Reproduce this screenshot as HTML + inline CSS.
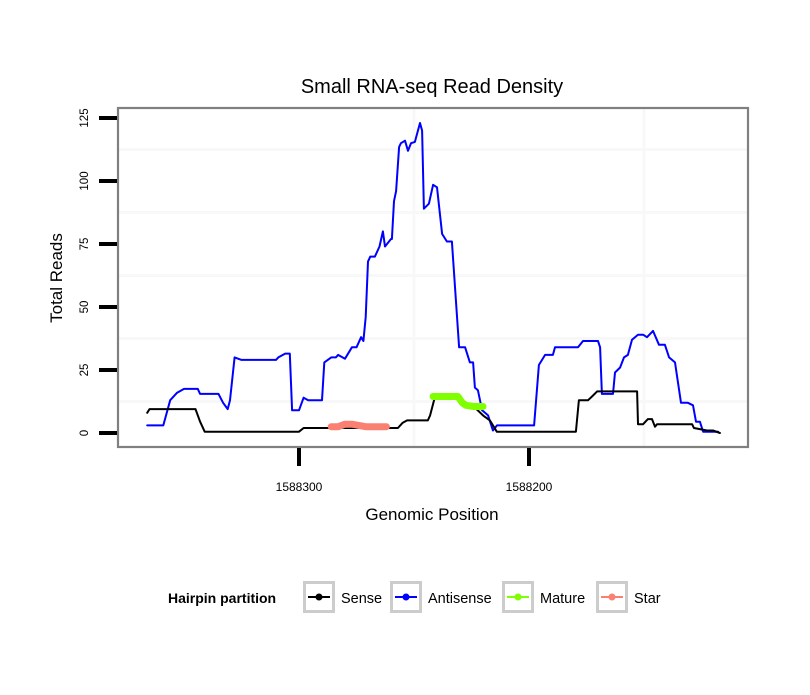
<!DOCTYPE html>
<html><head><meta charset="utf-8"><style>
body{margin:0;background:#fff}
svg text{font-family:"Liberation Sans",sans-serif}
</style></head><body>
<svg id="chart" width="810" height="690" viewBox="0 0 810 690" xmlns="http://www.w3.org/2000/svg">
<rect width="810" height="690" fill="#fff"/>
<text x="432" y="93" font-size="20" text-anchor="middle">Small RNA-seq Read Density</text>
<g id="grid"></g>
<g id="series"></g>
<rect x="118" y="108" width="630" height="339" fill="none" stroke="#808080" stroke-width="2.2"/>
<g id="axes"></g>
<text x="432" y="520" font-size="17" text-anchor="middle">Genomic Position</text>
<text transform="translate(62,278) rotate(-90)" font-size="17" text-anchor="middle">Total Reads</text>
<g>
<text x="168" y="603" font-size="14" font-weight="bold">Hairpin partition</text>
<g id="legend"></g>
</g>
</svg>
<script>
const senseX=[1588366,1588365,1588345,1588343,1588341,1588300,1588298,1588257,1588255,1588253,1588244,1588243,1588241,1588231,1588229,1588227.4,1588224,1588220,1588217,1588214,1588179.6,1588178.3,1588174.3,1588172.6,1588170.4,1588153,1588152.6,1588150.4,1588148.3,1588146.5,1588145.2,1588144.3,1588129.1,1588128.3,1588122.6,1588120,1588117];
const senseY=[8,9.5,9.5,4.5,0.5,0.5,2,2,4,5,5,7,14,14,12,11,10.5,7,5,0.5,0.5,13,13,14.5,16.5,16.5,3.5,3.5,5.5,5.5,2.5,3.5,3.5,2,1,1,0];
const antiX=[1588366,1588359,1588356,1588353,1588350,1588344,1588343,1588335,1588333,1588331,1588330,1588328,1588325,1588310,1588309,1588306,1588304,1588303,1588300,1588298,1588296,1588290,1588289,1588286,1588284,1588283,1588280,1588277,1588275,1588273,1588272,1588271,1588270,1588269,1588267,1588265,1588263.5,1588262.6,1588260,1588259.6,1588258.7,1588257.8,1588256.5,1588255.7,1588253.9,1588252.6,1588251.3,1588249.6,1588247.4,1588246.5,1588245.7,1588243.5,1588241.7,1588240,1588237.8,1588235.7,1588233.5,1588230.4,1588227.8,1588225.7,1588224.3,1588223.5,1588222.2,1588220.4,1588217.8,1588215.7,1588213.9,1588197.8,1588195.7,1588193,1588189.6,1588188.7,1588178.7,1588176.5,1588170,1588169.1,1588168.3,1588163.5,1588162.6,1588160.4,1588158.7,1588157,1588155.2,1588152.6,1588150.4,1588148.7,1588146.1,1588143.5,1588140.9,1588139.1,1588136.5,1588133.9,1588130.9,1588128.7,1588127.4,1588125.7,1588124.3,1588117.8];
const antiY=[3,3,13,16,17.5,17.5,15.5,15.5,12,9.5,13,30,29,29,30,31.5,31.5,9,9,14,13,13,28,30,30,31,29.5,34,34,38,36.5,46,68,70,70,74,80,74,77,77,92,96,113.5,115,116,112,115,115.5,123,120,89,91,98.5,97.5,79,76,76,34,34,28,28,18,17,9,7,1,3,3,27,31,31,34,34,36.5,36.5,34,15.5,15.5,24,26,30,31,37,39,39,38,40.5,35,35,30,28,12,12,11,4.5,4.5,0.5,0.5];
const matureX=[1588241.7,1588236,1588230.9,1588229,1588227.4,1588224,1588220];
const matureY=[14.5,14.5,14.5,12,11,10.5,10.5];
const starX=[1588286,1588283,1588280,1588277,1588274,1588271,1588268,1588265,1588262];
const starY=[2.5,2.5,3.5,3.5,3,2.5,2.5,2.5,2.5];
const yTicks=[0,25,50,75,100,125];
const xTicks=[1588300,1588200];
const legendLabels=["Sense","Antisense","Mature","Star"];
const legendColors=["#000000","#0000ff","#7fff00","#fa8072"];

const NS="http://www.w3.org/2000/svg";
function sx(p){return 299+(1588300-p)*2.3;}
function sy(v){return 433-v*2.52;}
function mk(tag,attrs,parent){const e=document.createElementNS(NS,tag);for(const k in attrs)e.setAttribute(k,attrs[k]);parent.appendChild(e);return e;}
const grid=document.getElementById('grid'),series=document.getElementById('series'),axes=document.getElementById('axes'),legend=document.getElementById('legend');
[12.5,37.5,62.5,87.5,112.5].forEach(v=>{const l=mk('line',{x1:118,x2:748,y1:sy(v),y2:sy(v),stroke:'#f8f8f8','stroke-width':3},grid);

});
[1588250,1588150].forEach(p=>{const l=mk('line',{x1:sx(p),x2:sx(p),y1:108,y2:447,stroke:'#f8f8f8','stroke-width':3},grid);

});
function path(xs,ys,color,w,name){
  let d='';xs.forEach((x,i)=>{d+=(i?'L':'M')+sx(x).toFixed(1)+','+sy(ys[i]).toFixed(1);});
  const p=mk('path',{d:d,fill:'none',stroke:color,'stroke-width':w,'stroke-linejoin':'round','stroke-linecap':'round'},series);
  
  
}
path(antiX,antiY,'#0000ff',2,'antisense-line');
path(senseX,senseY,'#000000',2,'sense-line');
path(starX,starY,'#fa8072',7,'star-line');
path(matureX,matureY,'#7fff00',7,'mature-line');
yTicks.forEach(v=>{
  const t=mk('line',{x1:99,x2:117,y1:sy(v),y2:sy(v),stroke:'#000','stroke-width':4},axes);
  
  
  const tx=mk('text',{transform:'translate(88,'+sy(v)+') rotate(-90)','font-size':11.5,'text-anchor':'middle'},axes);
  tx.textContent=v;
  
  
});
xTicks.forEach(p=>{
  const t=mk('line',{x1:sx(p),x2:sx(p),y1:448,y2:466,stroke:'#000','stroke-width':4},axes);
  
  
  const tx=mk('text',{x:sx(p),y:491,'font-size':12,'text-anchor':'middle'},axes);
  tx.textContent=p;
  
  
});
const boxX=[303,390,502,596];
legendLabels.forEach((lab,i)=>{
  const g=mk('g',{},legend);
  
  
  mk('rect',{x:boxX[i]+1.5,y:582.5,width:29,height:29,fill:'#fff',stroke:'#cccccc','stroke-width':3},g);
  mk('line',{x1:boxX[i]+5,x2:boxX[i]+27,y1:597,y2:597,stroke:legendColors[i],'stroke-width':2},g);
  mk('circle',{cx:boxX[i]+16,cy:597,r:3.5,fill:legendColors[i]},g);
  const t=mk('text',{x:boxX[i]+38,y:603,'font-size':14.5},g);
  t.textContent=lab;
});
</script>
</body></html>
